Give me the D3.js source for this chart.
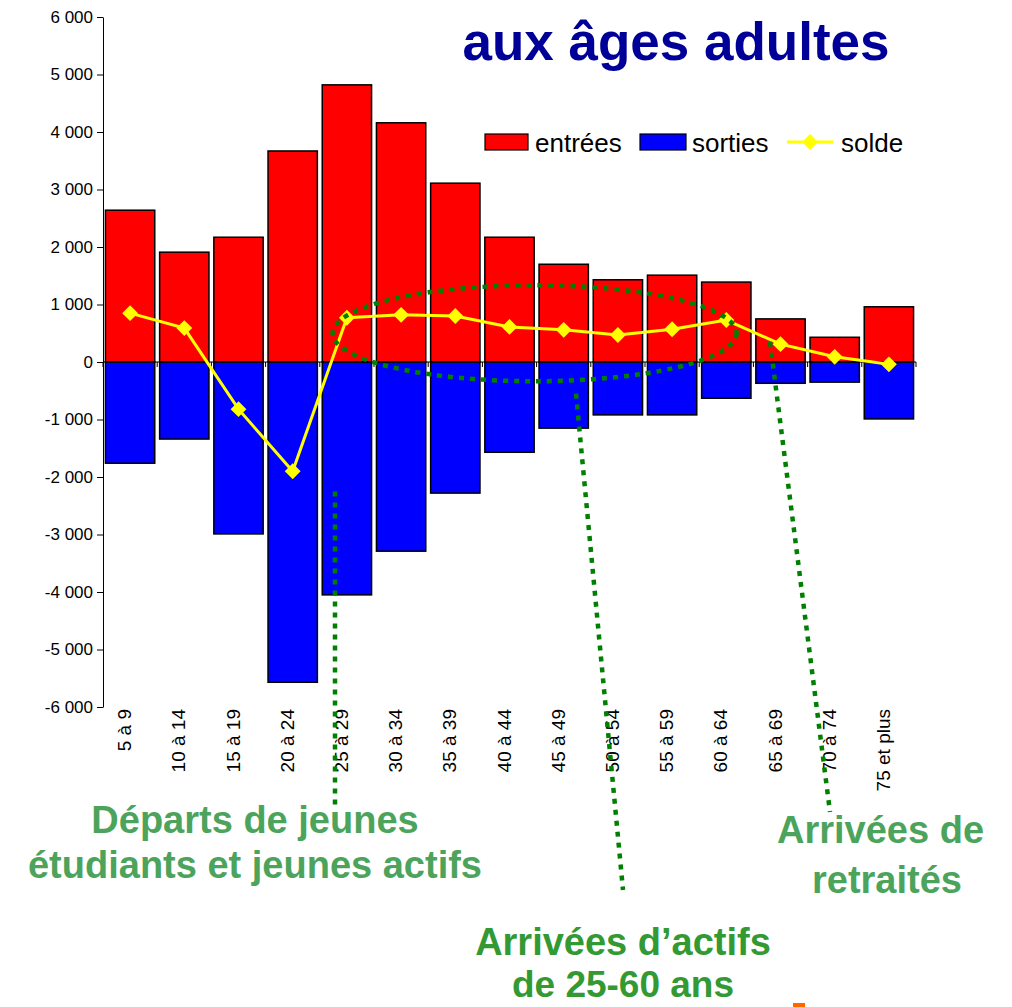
<!DOCTYPE html>
<html>
<head>
<meta charset="utf-8">
<script src="https://cdn.jsdelivr.net/npm/d3@7"></script>
<style>
  body { margin: 0; background: #fff; }
  svg { display: block; font-family: Arial, "Liberation Sans", sans-serif; }
  .axis path, .axis line { stroke: #000; }
  .axis text { font-size: 17px; fill: #000; }
</style>
</head>
<body>
<div id="chart"></div>
<script>
// age groups (categories)
const ages = ['5 à 9', '10 à 14', '15 à 19', '20 à 24', '25 à 29', '30 à 34', '35 à 39',
  '40 à 44', '45 à 49', '50 à 54', '55 à 59', '60 à 64', '65 à 69', '70 à 74', '75 et plus']
// series
const entrees = [2640, 1910, 2170, 3670, 4820, 4160, 3110, 2170, 1700, 1430, 1510, 1390, 750, 430, 960]
const sorties = [-1760, -1340, -2990, -5570, -4050, -3290, -2280, -1570, -1150, -920, -920, -630, -370, -350, -990]
const solde = [850, 590, -820, -1900, 770, 820, 800, 610, 560, 470, 570, 730, 310, 90, -40]
const yTicks = [-6000, -5000, -4000, -3000, -2000, -1000, 0, 1000, 2000, 3000, 4000, 5000, 6000]

const width = 1012, height = 1007
const margin = {top: 17, right: 96, bottom: 300, left: 103}

const svg = d3.select('#chart').append('svg')
  .attr('width', width).attr('height', height)

const x = d3.scaleBand().domain(ages)
  .range([margin.left, width - margin.right]).paddingInner(0.09).paddingOuter(0.045)
const y = d3.scaleLinear().domain([-6000, 6000])
  .range([height - margin.bottom, margin.top])

const locale = d3.formatLocale({decimal: ',', thousands: ' ', grouping: [3], currency: ['', ' €'], minus: '-'})
const fmt = locale.format(',')

// y axis
svg.append('g').attr('class', 'axis')
  .attr('transform', `translate(${margin.left},0)`)
  .call(d3.axisLeft(y).tickValues(yTicks).tickFormat(fmt).tickSize(6).tickSizeOuter(0).tickPadding(4))

// bars
const bars = svg.append('g')
bars.selectAll('rect.in').data(entrees).join('rect')
  .attr('x', (d, i) => x(ages[i])).attr('width', x.bandwidth())
  .attr('y', d => y(d)).attr('height', d => y(0) - y(d))
  .attr('fill', '#ff0000').attr('stroke', '#000').attr('stroke-width', 1.5)
bars.selectAll('rect.out').data(sorties).join('rect')
  .attr('x', (d, i) => x(ages[i])).attr('width', x.bandwidth())
  .attr('y', y(0)).attr('height', d => y(d) - y(0))
  .attr('fill', '#0000ff').attr('stroke', '#000').attr('stroke-width', 1.5)

// zero axis with boundary ticks
const xAxisG = svg.append('g').attr('class', 'axis')
xAxisG.append('line')
  .attr('x1', margin.left).attr('x2', width - margin.right)
  .attr('y1', y(0)).attr('y2', y(0))
const step = x.step()
xAxisG.selectAll('line.tk').data(d3.range(ages.length + 1)).join('line')
  .attr('x1', i => margin.left + i * step).attr('x2', i => margin.left + i * step)
  .attr('y1', y(0)).attr('y2', y(0) + 5)

// category labels (rotated)
svg.append('g').selectAll('text').data(ages).join('text')
  .attr('transform', d => `translate(${x(d) + x.bandwidth() / 2 + 1},${y(-6000) + 2}) rotate(-90)`)
  .attr('text-anchor', 'end')
  .attr('font-size', 19)
  .text(d => d)

// solde line
const line = d3.line().x((d, i) => x(ages[i]) + x.bandwidth() / 2).y(d => y(d))
svg.append('path').datum(solde)
  .attr('d', line).attr('fill', 'none').attr('stroke', '#ffff00').attr('stroke-width', 3)
svg.append('g').selectAll('path').data(solde).join('path')
  .attr('transform', (d, i) => `translate(${x(ages[i]) + x.bandwidth() / 2},${y(d)})`)
  .attr('d', d3.symbol(d3.symbolDiamond2, 160))
  .attr('fill', '#ffff00')

// legend
const legend = svg.append('g').attr('font-size', 26)
legend.append('rect').attr('x', 485).attr('y', 134).attr('width', 43).attr('height', 16)
  .attr('fill', '#ff0000').attr('stroke', '#000').attr('stroke-width', 1.2)
legend.append('text').attr('x', 535).attr('y', 152).text('entrées')
legend.append('rect').attr('x', 640).attr('y', 134).attr('width', 46).attr('height', 16)
  .attr('fill', '#0000ff').attr('stroke', '#000').attr('stroke-width', 1.2)
legend.append('text').attr('x', 692).attr('y', 152).text('sorties')
legend.append('line').attr('x1', 787).attr('x2', 833).attr('y1', 142).attr('y2', 142)
  .attr('stroke', '#ffff00').attr('stroke-width', 3)
legend.append('path').attr('transform', 'translate(810,142)')
  .attr('d', d3.symbol(d3.symbolDiamond2, 160)).attr('fill', '#ffff00')
legend.append('text').attr('x', 841).attr('y', 152).text('solde')

// title
svg.append('text').attr('x', 676).attr('y', 60).attr('text-anchor', 'middle')
  .attr('font-weight', 'bold').attr('fill', '#000099').attr('font-size', 53)
  .text('aux âges adultes')

// annotations: dotted green ellipse and pointers
const ann = svg.append('g').attr('fill', 'none').attr('stroke', '#008000')
  .attr('stroke-width', 4.5).attr('stroke-dasharray', '5,6')
ann.append('ellipse')
  .attr('cx', (x('25 à 29') + x('60 à 64') + x.bandwidth()) / 2 - 2)
  .attr('cy', y(500)).attr('rx', 202).attr('ry', 48)
ann.append('line').attr('x1', 335).attr('y1', y(-2250)).attr('x2', 335).attr('y2', 806)
ann.append('line').attr('x1', 576).attr('y1', y(-550)).attr('x2', 623).attr('y2', 890)
ann.append('line').attr('x1', 770).attr('y1', y(350)).attr('x2', 830).attr('y2', 812)

const notes = svg.append('g').attr('font-weight', 'bold').attr('font-size', 38)
  .attr('text-anchor', 'middle')
notes.append('text').attr('x', 255).attr('y', 833).attr('fill', '#4ca45c').text('Départs de jeunes')
notes.append('text').attr('x', 255).attr('y', 878).attr('fill', '#4ca45c').text('étudiants et jeunes actifs')
notes.append('text').attr('x', 623).attr('y', 955).attr('fill', '#339933').text('Arrivées d’actifs')
notes.append('text').attr('x', 623).attr('y', 997).attr('fill', '#339933').attr('font-size', 37).text('de 25-60 ans')
notes.append('text').attr('x', 777).attr('y', 843).attr('text-anchor', 'start').attr('fill', '#4ca45c').text('Arrivées de')
notes.append('text').attr('x', 887).attr('y', 893).attr('fill', '#4ca45c').text('retraités')

// small orange mark at the bottom edge
svg.append('rect').attr('x', 793).attr('y', 1003).attr('width', 12).attr('height', 4).attr('fill', '#ff6600')
</script>
</body>
</html>
